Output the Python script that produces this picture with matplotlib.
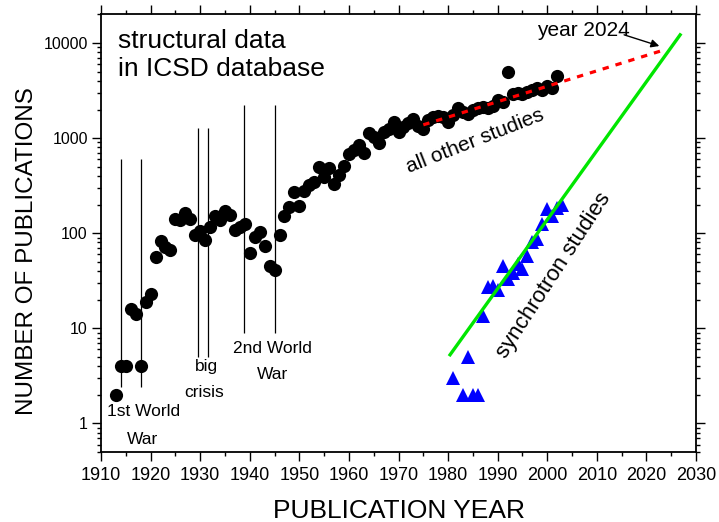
import matplotlib
matplotlib.use("Agg")
import matplotlib.pyplot as plt
from matplotlib.ticker import LogLocator, FixedLocator, FixedFormatter, NullFormatter, MultipleLocator

plt.rcParams['font.family'] = ['Liberation Sans', 'DejaVu Sans']

# ---- data: all other studies (black dots) ----
icsd_years = list(range(1913, 2003))
icsd_counts = [2, 4, 4, 16, 14, 4, 19, 23, 56, 82,
               72, 67, 142, 138, 165, 140, 96, 106, 85, 115,
               150, 138, 170, 155, 107, 117, 125, 62, 92, 104,
               74, 45, 41, 96, 150, 190, 270, 195, 275, 320,
               345, 495, 390, 480, 330, 410, 510, 680, 750, 850,
               705, 1120, 1035, 890, 1170, 1240, 1460, 1170, 1300, 1440,
               1580, 1340, 1250, 1550, 1680, 1700, 1650, 1490, 1750, 2050,
               1900, 1800, 2000, 2050, 2100, 2050, 2200, 2500, 2400, 5000,
               2900, 2950, 2900, 3070, 3200, 3350, 3200, 3500, 3400, 4500]

# ---- data: synchrotron studies (blue triangles) ----
sync_years = [1981, 1983, 1984, 1985, 1986, 1987, 1988, 1989, 1990, 1991,
              1992, 1993, 1994, 1995, 1996, 1997, 1998, 1999, 2000, 2001,
              2002, 2003]
sync_counts = [3, 2, 5, 2, 2, 13.5, 27, 28, 25, 45,
               33, 38, 47, 42, 58, 80, 88, 125, 180, 150,
               185, 200]

# ---- trend lines (end points) ----
other_fit_years = [1975, 2024]
other_fit_values = [1380, 8600]
sync_fit_years = [1980.2, 2027]
sync_fit_values = [5.1, 12600]

# ---- historical event markers ----
event_years = [1914, 1918, 1929.5, 1931.6, 1938.8, 1945]
event_low = [2.4, 2.4, 5.0, 5.0, 9.0, 9.0]
event_high = [600, 600, 1270, 1270, 2250, 2250]

x_ticks = [1910, 1920, 1930, 1940, 1950, 1960, 1970, 1980, 1990, 2000, 2010, 2020, 2030]
y_ticks = [1, 10, 100, 1000, 10000]
y_tick_labels = ['1', '10', '100', '1000', '10000']

fig = plt.figure(figsize=(7.19, 5.22), dpi=100)
ax = fig.add_axes([0.1405, 0.134, 0.8275, 0.839])

ax.vlines(event_years, event_low, event_high, colors='black', linewidth=0.9, zorder=1)

ax.plot(icsd_years, icsd_counts, 'o', color='black', markersize=9.5,
        markeredgewidth=0, zorder=2)
ax.plot(sync_years, sync_counts, '^', color='#0000ff', markersize=9.5,
        markeredgewidth=0, zorder=2)

ax.plot(other_fit_years, other_fit_values, color='#ff0000', linewidth=2.3,
        linestyle=(0, (2, 2.2)), zorder=3)
ax.plot(sync_fit_years, sync_fit_values, color='#00e600', linewidth=2.4,
        solid_capstyle='butt', zorder=3)

ax.set_yscale('log')
ax.set_xlim(1910, 2030)
ax.set_ylim(0.5, 20150)

ax.xaxis.set_major_locator(FixedLocator(x_ticks))
ax.xaxis.set_minor_locator(MultipleLocator(5))
ax.yaxis.set_major_locator(FixedLocator(y_ticks))
ax.yaxis.set_major_formatter(FixedFormatter(y_tick_labels))
ax.yaxis.set_minor_locator(LogLocator(base=10, subs=range(2, 10), numticks=20))
ax.yaxis.set_minor_formatter(NullFormatter())

ax.tick_params(which='both', direction='out', top=True, right=True, width=1.0)
ax.tick_params(which='major', length=6.5)
ax.tick_params(which='minor', length=3.2)
ax.tick_params(axis='x', which='major', labelsize=13, pad=4)
ax.tick_params(axis='y', which='major', labelsize=11.5, pad=3)
for s in ax.spines.values():
    s.set_linewidth(1.3)

ax.set_xlabel('PUBLICATION YEAR', fontsize=19, labelpad=11)
ax.set_ylabel('NUMBER OF PUBLICATIONS', fontsize=17.5)
ax.yaxis.set_label_coords(-0.106, 0.46)

ax.text(0.029, 0.965, 'structural data\nin ICSD database', transform=ax.transAxes,
        fontsize=19, ha='left', va='top', linespacing=1.2)

ax.text(1918.5, 1.34, '1st World', fontsize=12.5, ha='center', va='center')
ax.text(1918.3, 0.68, 'War', fontsize=12.5, ha='center', va='center')
ax.text(1931.2, 3.96, 'big', fontsize=12.5, ha='center', va='center')
ax.text(1930.8, 2.11, 'crisis', fontsize=12.5, ha='center', va='center')
ax.text(1944.5, 6.1, '2nd World', fontsize=12.5, ha='center', va='center')
ax.text(1944.5, 3.27, 'War', fontsize=12.5, ha='center', va='center')

ax.text(1985.4, 930, 'all other studies', fontsize=15, rotation=21.5,
        ha='center', va='center')
ax.text(2001.4, 35.7, 'synchrotron studies', fontsize=16, rotation=57,
        ha='center', va='center')

ax.text(2007.2, 13700, 'year 2024', fontsize=15, ha='center', va='center')
ax.annotate('', xy=(2022.6, 9300), xytext=(2015.5, 12200),
            arrowprops=dict(arrowstyle='-|>', color='black', lw=1.0,
                            mutation_scale=12, shrinkA=0, shrinkB=0))

fig.savefig('out.png', dpi=100)
